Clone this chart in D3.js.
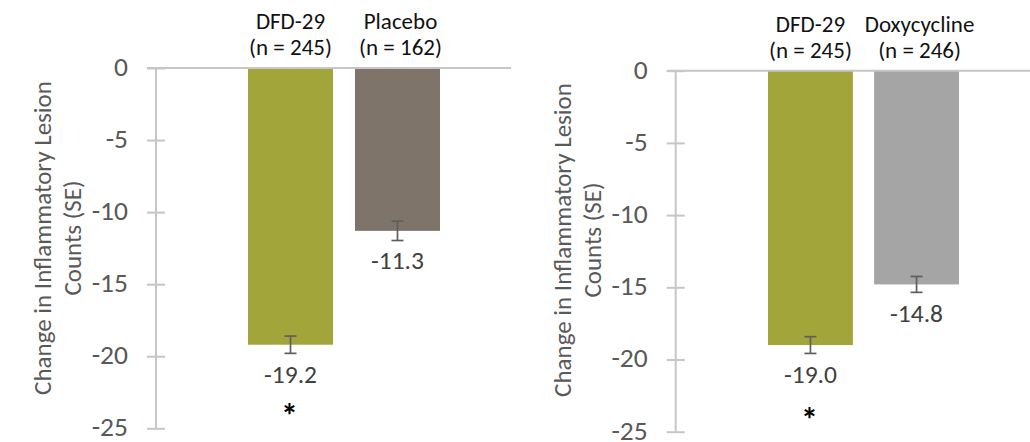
<!DOCTYPE html>
<html>
<head>
<meta charset="utf-8">
<script src="https://cdn.jsdelivr.net/npm/d3@7"></script>
<style>
  html, body { margin: 0; padding: 0; background: #fff; }
  svg { display: block; }
  text { font-family: Carlito, Lato, "Open Sans", sans-serif; }
</style>
</head>
<body>
<svg id="chart" width="1030" height="442"></svg>
<script>
// ---- Data ----
const yTicks = [0, -5, -10, -15, -20, -25];
const yTitleLines = ["Change in Inflammatory Lesion", "Counts (SE)"];

const leftCategories = ["DFD-29", "Placebo"];
const leftN = ["(n = 245)", "(n = 162)"];
const leftValues = [-19.2, -11.3];
const leftSE = [0.6, 0.67];
const leftLabels = ["-19.2", "-11.3"];
const leftMarks = ["*", ""];

const rightCategories = ["DFD-29", "Doxycycline"];
const rightN = ["(n = 245)", "(n = 246)"];
const rightValues = [-19.0, -14.8];
const rightSE = [0.58, 0.55];
const rightLabels = ["-19.0", "-14.8"];
const rightMarks = ["*", ""];

// ---- Styles ----
const leftColors = ["#A2A539", "#7F7469"];
const rightColors = ["#A2A539", "#A5A5A5"];
const axisColor = "#C6C6C6";

const svg = d3.select("#chart");

function drawPanel(cfg) {
  const g = svg.append("g");
  const y = d3.scaleLinear().domain([0, -25]).range([cfg.y0, cfg.y25]);
  const x = d3.scaleBand().domain(cfg.categories).range(cfg.barRange)
    .paddingInner(cfg.padInner).paddingOuter(0);

  // y axis
  const axis = d3.axisLeft(y).tickValues(yTicks).tickSizeInner(9).tickSizeOuter(0).tickPadding(19)
    .tickFormat(d => String(d));
  const ax = g.append("g").attr("transform", `translate(${cfg.axisX},0)`).call(axis);
  ax.select(".domain").remove();
  ax.selectAll(".tick line").attr("x1", -9).attr("x2", 9)
    .attr("stroke", axisColor).attr("stroke-width", 2);
  ax.selectAll(".tick text").attr("fill", "#595959")
    .style("font-size", "27.5px").attr("dy", "0.27em");
  g.append("line")
    .attr("x1", cfg.axisX).attr("x2", cfg.axisX)
    .attr("y1", y(0)).attr("y2", y(-25))
    .attr("stroke", axisColor).attr("stroke-width", 2);

  // bars
  g.selectAll("rect.bar").data(cfg.values).join("rect")
    .attr("class", "bar")
    .attr("x", (d, i) => x(cfg.categories[i]))
    .attr("width", x.bandwidth())
    .attr("y", y(0))
    .attr("height", d => y(d) - y(0))
    .attr("fill", (d, i) => cfg.colors[i]);

  // zero line
  g.append("line")
    .attr("x1", cfg.axisX - 9).attr("x2", cfg.zeroEnd)
    .attr("y1", y(0)).attr("y2", y(0))
    .attr("stroke", axisColor).attr("stroke-width", 2);

  // error bars
  cfg.values.forEach((v, i) => {
    const cx = x(cfg.categories[i]) + x.bandwidth() / 2;
    const e = cfg.se[i];
    const eg = g.append("g").attr("stroke", "#5F5F5F").attr("stroke-width", 1.7);
    eg.append("line").attr("x1", cx).attr("x2", cx).attr("y1", y(v + e)).attr("y2", y(v - e));
    eg.append("line").attr("x1", cx - 6).attr("x2", cx + 6).attr("y1", y(v + e)).attr("y2", y(v + e));
    eg.append("line").attr("x1", cx - 6).attr("x2", cx + 6).attr("y1", y(v - e)).attr("y2", y(v - e));

    // value label
    g.append("text").attr("x", cx).attr("y", y(v) + 38)
      .attr("text-anchor", "middle").attr("fill", "#404040")
      .style("font-size", "25.5px").text(cfg.labels[i]);

    // significance
    if (cfg.marks[i]) {
      g.append("text").attr("x", cx - 1).attr("y", cfg.markY)
        .attr("text-anchor", "middle").attr("fill", "#000")
        .style("font-size", "34px").style("font-weight", "bold").text(cfg.marks[i]);
    }

    // header labels
    g.append("text").attr("x", cx + (i === 1 ? 3 : 0)).attr("y", cfg.head1)
      .attr("text-anchor", "middle").attr("fill", "#111")
      .style("font-size", "23px").text(cfg.categories[i]);
    g.append("text").attr("x", cx + (i === 1 ? 3 : 0)).attr("y", cfg.head2)
      .attr("text-anchor", "middle").attr("fill", "#111")
      .style("font-size", "23px").text(cfg.ns[i]);
  });

  // y title
  const t = g.append("text")
    .attr("transform", `translate(${cfg.titleX},${cfg.titleY}) rotate(-90)`)
    .attr("text-anchor", "middle").attr("fill", "#595959")
    .style("font-size", "25px");
  yTitleLines.forEach((line, i) => {
    t.append("tspan").attr("x", 0).attr("dy", i === 0 ? 0 : 30).text(line);
  });
}

drawPanel({
  categories: leftCategories, ns: leftN, values: leftValues, se: leftSE,
  labels: leftLabels, marks: leftMarks, colors: leftColors,
  y0: 68, y25: 428.3, axisX: 156, zeroEnd: 511,
  barRange: [248, 440], padInner: 0.2056,
  head1: 29, head2: 55, markY: 427, titleX: 51, titleY: 238
});

drawPanel({
  categories: rightCategories, ns: rightN, values: rightValues, se: rightSE,
  labels: rightLabels, marks: rightMarks, colors: rightColors,
  y0: 70.7, y25: 431.7, axisX: 675.7, zeroEnd: 1030,
  barRange: [768, 959], padInner: 0.2,
  head1: 32, head2: 58, markY: 431, titleX: 571, titleY: 240
});
</script>
</body>
</html>
